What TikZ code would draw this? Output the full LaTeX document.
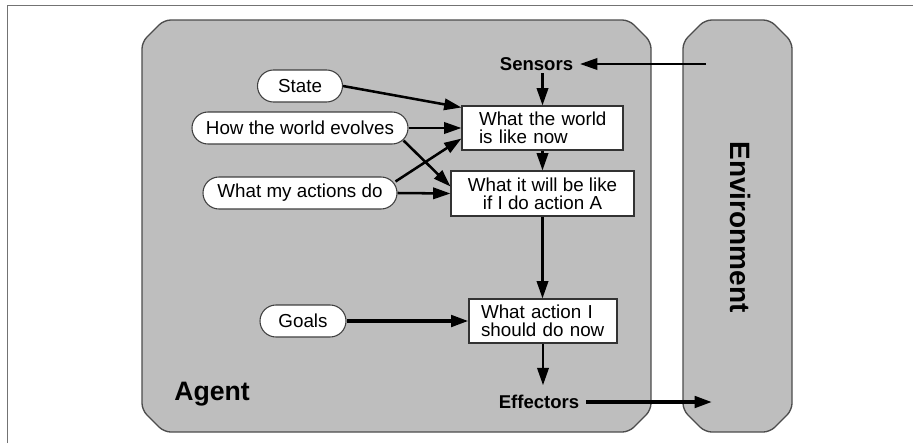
\documentclass[tikz,border=0pt]{standalone}
\usepackage{fontspec}
\setmainfont{Liberation Sans}
\usetikzlibrary{arrows.meta,calc}
\definecolor{panel}{RGB}{190,190,190}
\definecolor{frameline}{RGB}{115,115,115}
\begin{document}
\begin{tikzpicture}[x=0.75pt,y=-0.75pt,
  every node/.style={font=\fontsize{14.1pt}{13.5pt}\selectfont},
  oval/.style={draw=black!75, line width=0.8pt, fill=white, rounded corners=12pt,
    minimum height=24pt, inner sep=0pt},
  box/.style={draw=black!80, line width=0.8pt, fill=white, inner ysep=0pt},
  lbl/.style={font=\bfseries\fontsize{13.9pt}{14pt}\selectfont, inner xsep=5pt, inner ysep=2pt},
  arr/.style={line width=1.9pt, -{Triangle[length=13pt,width=8.5pt]}},
  thickarr/.style={arr, line width=2.7pt},
  panelshape/.style={fill=panel, draw=black!70, line width=1pt, rounded corners=5pt}]
\useasboundingbox (0,0) rectangle (913,443);
% outer frame
\draw[frameline, line width=1.1pt] (7.5,443) -- (7.5,5.7) -- (913,5.7);
% panels
\draw[panelshape] (142,42) -- (142,410) -- (164,432) -- (629,432) -- (651,410)
  -- (651,42) -- (629,20) -- (164,20) -- cycle;
\draw[panelshape] (683,42) -- (683,410) -- (705,432) -- (770,432) -- (792,410)
  -- (792,42) -- (770,20) -- (705,20) -- cycle;
% labels
\node[font=\bfseries\fontsize{20pt}{20pt}\selectfont, anchor=base west, inner sep=0pt] (agent) at (174,400) {Agent};
\node[font=\bfseries\fontsize{21pt}{21pt}\selectfont, rotate=-90, inner sep=0pt] (env) at (740,227) {Environment};
\node[lbl] (sensors) at (536.5,64) {Sensors};
\node[lbl] (effectors) at (539,402) {Effectors};
\coordinate (sin) at (706,64);
\coordinate (eout) at (712,402);
% ovals
\node[oval, minimum width=63.75pt] (state) at (300,86) {State};
\node[oval, minimum width=162pt] (hwe) at (300,128) {How the world evolves};
\node[oval, minimum width=145.5pt] (wmad) at (300,193) {What my actions do};
\node[oval, minimum width=64.5pt] (goals) at (303,321) {Goals};
% boxes
\node[box, inner xsep=0pt, text width=120.75pt, align=left, minimum height=33pt] (b1) at (542.5,128)
  {\hspace*{12.75pt}What the world\\\hspace*{12.75pt}is like now};
\node[box, minimum width=137.25pt, align=center, minimum height=33.75pt] (b2) at (542.5,193.5)
  {What it will be like\\if I do action A};
\node[box, inner xsep=0pt, text width=111pt, align=left, minimum height=33pt] (b3) at (543,321)
  {\hspace*{9pt}What action I\\\hspace*{9pt}should do now};
% connectors
\draw[arr] (state.east) -- ($(b1.north west)+(0,2)$);
\draw[arr] (hwe.east) -- (b1.west);
\draw[arr] ($(hwe.south east)+(-5,-4)$) -- ($(b2.west)+(0,-7)$);
\draw[arr] ($(wmad.north east)+(-2,5)$) -- ($(b1.south west)+(0,-12)$);
\draw[arr] (wmad.east) -- (b2.west);
\draw[thickarr] (goals.east) -- (b3.west);
\draw[arr] (sin) -- (sensors.east);
\draw[arr] (sensors.south -| b1.north) -- (b1.north);
\draw[arr] (b1.south) -- (b1.south |- b2.north);
\draw[arr] (b2.south) -- (b2.south |- b3.north);
\draw[arr] (b3.south) -- ($(b3.south |- effectors.north)+(0,-7)$);
\draw[thickarr] (effectors.east) -- (eout);
\end{tikzpicture}
\end{document}
